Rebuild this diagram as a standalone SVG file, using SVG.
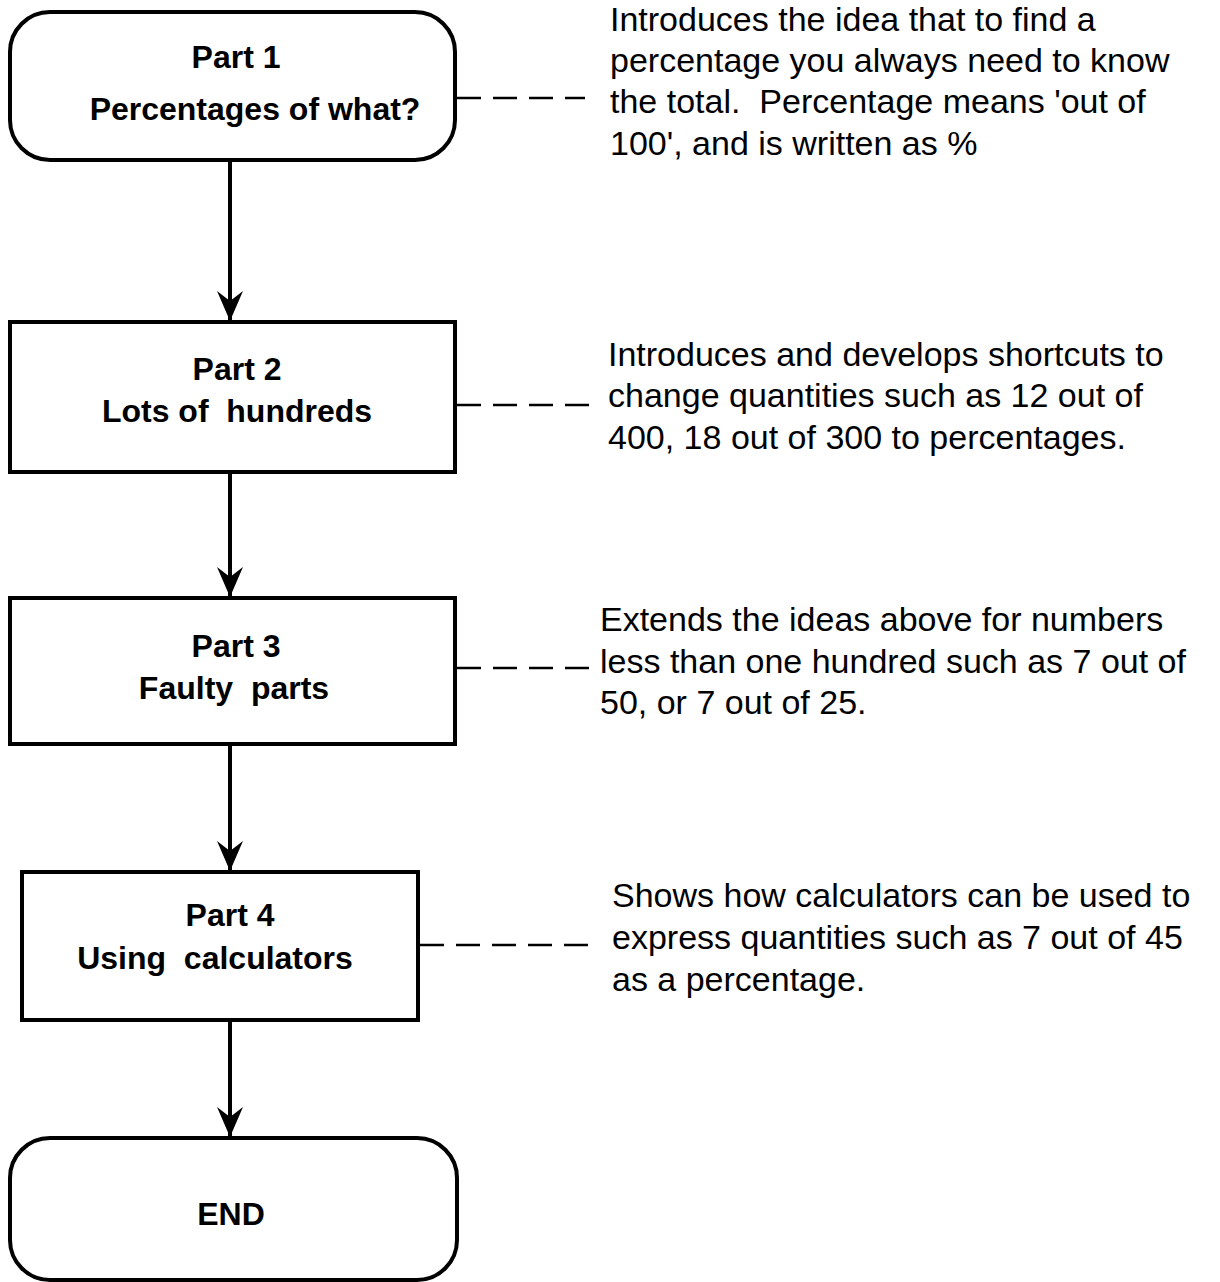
<svg xmlns="http://www.w3.org/2000/svg" width="1220" height="1282" viewBox="0 0 1220 1282">
<style>
text{white-space:pre}
.box{fill:#fff;stroke:#000;stroke-width:4}
.t{font-family:"Liberation Sans",Arial,sans-serif;font-weight:bold;font-size:32px;fill:#000;text-anchor:middle}
.d{font-family:"Liberation Sans",Arial,sans-serif;font-size:34px;fill:#000}
.arr{stroke:#000;stroke-width:4;fill:none;marker-end:url(#ah)}
.dash{stroke:#000;stroke-width:2.5;fill:none;stroke-dasharray:24 12}
</style>
<defs>
<marker id="ah" markerUnits="userSpaceOnUse" markerWidth="34" markerHeight="30" refX="32" refY="15" orient="auto" viewBox="0 0 34 30">
<path d="M32,15 L2,2 L12,15 L2,28 Z" fill="#000"/>
</marker>
</defs>
<rect width="1220" height="1282" fill="#fff"/>
<g id="connectors">
<line class="arr" x1="230" y1="160" x2="230" y2="321"/>
<line class="arr" x1="230" y1="472" x2="230" y2="597"/>
<line class="arr" x1="230" y1="744" x2="230" y2="871"/>
<line class="arr" x1="230" y1="1020" x2="230" y2="1137"/>
<line class="dash" x1="457" y1="98" x2="585" y2="98"/>
<line class="dash" x1="457" y1="405" x2="597" y2="405"/>
<line class="dash" x1="457" y1="668" x2="600" y2="668"/>
<line class="dash" x1="420" y1="945" x2="598" y2="945"/>
</g>
<g id="part1">
<rect class="box" x="10" y="12" width="445" height="148" rx="40"/>
<text class="t" x="236" y="68">Part 1</text>
<text class="t" x="255" y="120">Percentages of what?</text>
</g>
<g id="part2">
<rect class="box" x="10" y="322" width="445" height="150"/>
<text class="t" x="237" y="380">Part 2</text>
<text class="t" x="237" y="422">Lots of  hundreds</text>
</g>
<g id="part3">
<rect class="box" x="10" y="598" width="445" height="146"/>
<text class="t" x="236" y="657">Part 3</text>
<text class="t" x="234" y="699">Faulty  parts</text>
</g>
<g id="part4">
<rect class="box" x="22" y="872" width="396" height="148"/>
<text class="t" x="230" y="926">Part 4</text>
<text class="t" x="215" y="969">Using  calculators</text>
</g>
<g id="end">
<rect class="box" x="10" y="1138" width="447" height="142" rx="40"/>
<text class="t" x="231" y="1225">END</text>
</g>
<g id="note1">
<text class="d" x="610" y="31">Introduces the idea that to find a</text>
<text class="d" x="610" y="72">percentage you always need to know</text>
<text class="d" x="610" y="113">the total.  Percentage means 'out of</text>
<text class="d" x="610" y="155">100', and is written as %</text>
</g>
<g id="note2">
<text class="d" x="608" y="366">Introduces and develops shortcuts to</text>
<text class="d" x="608" y="407">change quantities such as 12 out of</text>
<text class="d" x="608" y="449">400, 18 out of 300 to percentages.</text>
</g>
<g id="note3">
<text class="d" x="600" y="631">Extends the ideas above for numbers</text>
<text class="d" x="600" y="673">less than one hundred such as 7 out of</text>
<text class="d" x="600" y="714">50, or 7 out of 25.</text>
</g>
<g id="note4">
<text class="d" x="612" y="907">Shows how calculators can be used to</text>
<text class="d" x="612" y="949">express quantities such as 7 out of 45</text>
<text class="d" x="612" y="991">as a percentage.</text>
</g>
</svg>
